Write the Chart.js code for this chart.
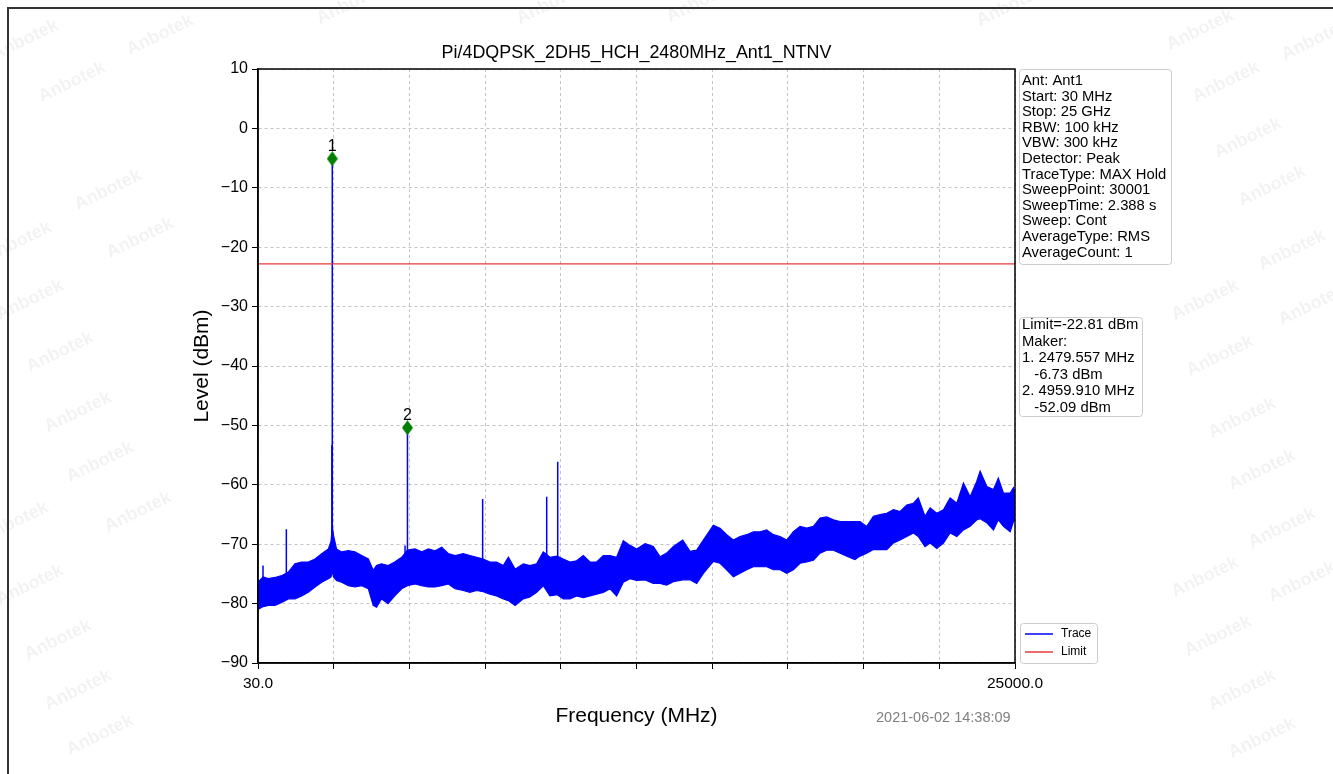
<!DOCTYPE html>
<html>
<head>
<meta charset="utf-8">
<script src="https://cdn.jsdelivr.net/npm/chart.js@4/dist/chart.umd.min.js"></script>
<style>
  html, body { margin: 0; padding: 0; background: #fff; }
  #wrap { width: 1333px; height: 774px; }
</style>
</head>
<body>
<div id="wrap"><canvas id="canvas" width="1333" height="774"></canvas></div>
<script>
var freqMHz = [30, 200, 370, 590, 810, 1030, 1250, 1470, 1690, 1910, 2130, 2350, 2440, 2480, 2520, 2620, 2790, 3010, 3230, 3450,
    3670, 3830, 3940, 4100, 4320, 4540, 4770, 4960, 5210, 5430, 5650, 5870, 6090, 6310, 6530, 6800, 7020, 7240, 7460, 7680,
    7900, 8120, 8290, 8510, 8780, 9000, 9220, 9440, 9660, 9900, 10100, 10320, 10540, 10760, 10980, 11200, 11420, 11640, 11860, 12080,
    12300, 12520, 12800, 13070, 13290, 13510, 13730, 14040, 14280, 14500, 14720, 15050, 15270, 15490, 15710, 15930, 16150, 16370, 16590, 16810,
    17030, 17250, 17470, 17690, 17910, 18130, 18350, 18570, 18790, 19010, 19230, 19450, 19720, 19890, 20110, 20330, 20550, 20770, 20990, 21210,
    21430, 21650, 21810, 22030, 22200, 22420, 22640, 22860, 23080, 23300, 23520, 23740, 23850, 24070, 24290, 24450, 24620, 24840, 24950, 25000]
var upperDbm = [-76.4, -75.5, -75.8, -75.6, -75.3, -74.7, -73.3, -73.0, -73.0, -72.5, -71.6, -70.8, -69.5, -66.9, -68.5, -70.8, -71.3, -71.1, -71.3, -71.9,
    -72.5, -74.4, -73.6, -73.3, -73.6, -73.0, -72.2, -71.0, -70.8, -71.3, -70.8, -71.1, -70.5, -71.6, -71.9, -71.6, -71.9, -72.2, -72.5, -73.0,
    -73.0, -73.6, -72.2, -74.2, -73.3, -73.6, -73.3, -71.3, -72.2, -72.0, -72.5, -73.0, -72.8, -71.9, -73.0, -73.0, -71.9, -71.9, -72.2, -69.4,
    -70.2, -70.8, -69.9, -70.4, -72.1, -71.5, -70.4, -69.3, -71.2, -71.0, -69.3, -66.8, -67.3, -68.4, -69.3, -68.7, -68.4, -67.9, -67.9, -67.6,
    -68.4, -68.7, -69.3, -67.9, -67.0, -67.3, -67.0, -65.6, -65.4, -65.9, -66.2, -66.2, -66.2, -66.2, -67.0, -65.3, -65.0, -64.8, -64.2, -64.5,
    -63.4, -63.1, -62.2, -65.3, -63.9, -64.8, -64.2, -62.2, -63.1, -59.7, -62.0, -59.4, -57.7, -60.3, -60.8, -58.9, -61.4, -61.4, -60.5, -61.3]
var lowerDbm = [-81.0, -80.5, -80.3, -80.3, -79.8, -79.2, -79.2, -78.7, -78.1, -77.2, -76.4, -75.8, -75.5, -74.5, -75.5, -76.1, -76.4, -77.0, -77.2, -77.0,
    -77.5, -80.3, -80.6, -79.2, -80.0, -78.7, -77.5, -77.0, -76.7, -77.0, -77.2, -77.2, -77.0, -76.7, -77.5, -77.8, -78.1, -77.8, -78.0, -78.4,
    -78.7, -79.2, -79.5, -80.3, -79.2, -78.9, -78.1, -77.0, -78.7, -78.5, -79.2, -79.2, -78.7, -79.0, -78.7, -78.4, -78.1, -77.5, -78.7, -76.4,
    -75.8, -76.1, -76.0, -76.6, -76.6, -76.9, -76.3, -76.0, -76.0, -76.6, -74.9, -72.9, -73.2, -74.3, -75.5, -74.9, -74.3, -73.8, -73.8, -73.8,
    -74.3, -74.3, -74.9, -74.3, -73.2, -73.0, -72.7, -71.5, -71.0, -71.0, -71.5, -72.0, -72.6, -72.0, -71.5, -70.9, -70.9, -70.9, -69.8, -69.3,
    -68.7, -68.1, -68.7, -70.4, -69.8, -70.7, -69.8, -68.1, -68.7, -67.6, -67.0, -65.9, -65.7, -66.4, -67.6, -65.9, -67.0, -67.9, -66.2, -65.8]

// narrow emissions standing out of the noise
var spikeFreqs = [195, 965, 2465, 2480, 4880, 4960, 7440, 9553, 9916]
var spikeTops = [-73.6, -67.5, -53.3, -5.1, -70.2, -50.4, -62.4, -62.0, -56.1]
var spikeBases = [-78.0, -78.5, -74.0, -74.0, -76.5, -76.5, -77.5, -77.5, -78.0]

var markerFreqs = [2479.557, 4959.910]
var markerLevels = [-5.1, -50.4]
var markerNames = ['1', '2']

var limitDbm = -22.81
var xStart = 30
var xStop = 25000
var xTicks = [30, 2527, 5024, 7521, 10018, 12515, 15012, 17509, 20006, 22503, 25000]
var xTickLabels = ['30.0', '', '', '', '', '', '', '', '', '', '25000.0']

var chartTitle = 'Pi/4DQPSK_2DH5_HCH_2480MHz_Ant1_NTNV'
var xTitle = 'Frequency (MHz)'
var yTitle = 'Level (dBm)'
var stamp = '2021-06-02 14:38:09'
var infoLines = ['Ant: Ant1', 'Start: 30 MHz', 'Stop: 25 GHz', 'RBW: 100 kHz', 'VBW: 300 kHz', 'Detector: Peak',
    'TraceType: MAX Hold', 'SweepPoint: 30001', 'SweepTime: 2.388 s', 'Sweep: Cont', 'AverageType: RMS', 'AverageCount: 1']
var markerLines = ['Limit=-22.81 dBm', 'Maker:', '1. 2479.557 MHz', '   -6.73 dBm', '2. 4959.910 MHz', '   -52.09 dBm']
var legendNames = ['Trace', 'Limit']

var FONT = '"Liberation Sans", Arial, sans-serif'
var BLUE = '#0000ff'
var RED = '#e8383a'

var upperPts = freqMHz.map(function(f, i) { return { x: f, y: upperDbm[i] } })
var lowerPts = freqMHz.map(function(f, i) { return { x: f, y: lowerDbm[i] } })
var spikePts = []
spikeFreqs.forEach(function(f, i) {
    spikePts.push({ x: f, y: spikeBases[i] }, { x: f, y: spikeTops[i] }, { x: f, y: null })
})
var markerPts = markerFreqs.map(function(f, i) { return { x: f, y: markerLevels[i] } })

// thin green diamond, like the analyser marker
function diamond(w, h, color) {
    var c = document.createElement('canvas')
    c.width = w; c.height = h
    var g = c.getContext('2d')
    g.fillStyle = color
    g.beginPath()
    g.moveTo(w / 2, 0); g.lineTo(w, h / 2); g.lineTo(w / 2, h); g.lineTo(0, h / 2)
    g.closePath(); g.fill()
    return c
}

function textBox(ctx, lines, x, y, w, h, baseline0, step) {
    ctx.save()
    ctx.fillStyle = 'rgba(255,255,255,0.9)'
    ctx.strokeStyle = '#cccccc'
    ctx.lineWidth = 1
    ctx.beginPath()
    ctx.roundRect(x + 0.5, y + 0.5, w, h, 3)
    ctx.fill(); ctx.stroke()
    ctx.fillStyle = '#000'
    ctx.font = '14.8px ' + FONT
    ctx.textAlign = 'left'
    ctx.textBaseline = 'alphabetic'
    lines.forEach(function(t, i) { ctx.fillText(t, x + 3, baseline0 + i * step) })
    ctx.restore()
}

var watermarks = [[25, 40], [72, 82], [160, 35], [108, 190], [140, 238], [18, 242], [30, 300], [60, 352], [78, 412], [100, 462],
    [138, 512], [15, 522], [30, 585], [58, 640], [78, 690], [100, 735], [1226, 82], [1248, 138], [1272, 186], [1292, 250],
    [1312, 305], [1205, 300], [1220, 356], [1242, 418], [1262, 470], [1282, 528], [1302, 582], [1205, 577], [1218, 636],
    [1242, 690], [1262, 738], [1315, 40], [350, 4], [550, 4], [700, 2], [1010, 6], [1200, 30]]

var decor = {
    id: 'decor',
    beforeDraw: function(chart) {
        var ctx = chart.ctx
        ctx.save()
        ctx.fillStyle = '#fff'
        ctx.fillRect(0, 0, chart.width, chart.height)
        ctx.font = 'bold 18px ' + FONT
        ctx.fillStyle = 'rgba(0,0,0,0.05)'
        ctx.textAlign = 'center'
        ctx.textBaseline = 'middle'
        watermarks.forEach(function(p) {
            ctx.save(); ctx.translate(p[0], p[1]); ctx.rotate(-0.45); ctx.fillText('Anbotek', 0, 0); ctx.restore()
        })
        ctx.strokeStyle = '#333'
        ctx.lineWidth = 2
        ctx.beginPath()
        ctx.moveTo(8, 780); ctx.lineTo(8, 8); ctx.lineTo(1340, 8)
        ctx.stroke()
        ctx.restore()
    },
    afterDraw: function(chart) {
        var ctx = chart.ctx
        var a = chart.chartArea
        var xs = chart.scales.x, ys = chart.scales.y
        ctx.save()
        ctx.strokeStyle = '#000'
        ctx.lineWidth = 1.5
        ctx.strokeRect(a.left, a.top, a.right - a.left, a.bottom - a.top)

        ctx.fillStyle = '#000'
        ctx.textAlign = 'center'
        ctx.font = '17.9px ' + FONT
        ctx.textBaseline = 'alphabetic'
        ctx.fillText(chartTitle, (a.left + a.right) / 2, 58)
        ctx.font = '21px ' + FONT
        ctx.fillText(xTitle, (a.left + a.right) / 2, 722)
        ctx.save()
        ctx.translate(202, (a.top + a.bottom) / 2)
        ctx.rotate(-Math.PI / 2)
        ctx.textBaseline = 'middle'
        ctx.fillText(yTitle, 0, 0)
        ctx.restore()

        // marker numbers
        ctx.font = '16px ' + FONT
        ctx.textBaseline = 'alphabetic'
        markerFreqs.forEach(function(f, i) {
            ctx.fillText(markerNames[i], xs.getPixelForValue(f), ys.getPixelForValue(markerLevels[i]) - 8)
        })

        ctx.font = '14.5px ' + FONT
        ctx.fillStyle = '#808080'
        ctx.textAlign = 'left'
        ctx.fillText(stamp, 876, 722)

        textBox(ctx, infoLines, 1019, 69, 152, 195, 85, 15.6)
        textBox(ctx, markerLines, 1019, 317, 123, 99, 329, 16.5)

        // legend
        ctx.fillStyle = 'rgba(255,255,255,0.9)'
        ctx.strokeStyle = '#cccccc'
        ctx.lineWidth = 1
        ctx.beginPath()
        ctx.roundRect(1020.5, 623.5, 77, 40, 3)
        ctx.fill(); ctx.stroke()
        var cols = [BLUE, RED]
        var rows = [634, 652]
        ctx.font = '12px ' + FONT
        ctx.textBaseline = 'middle'
        legendNames.forEach(function(n, i) {
            ctx.strokeStyle = cols[i]
            ctx.lineWidth = 1.5
            ctx.beginPath(); ctx.moveTo(1025, rows[i]); ctx.lineTo(1053, rows[i]); ctx.stroke()
            ctx.fillStyle = '#000'
            ctx.fillText(n, 1061, rows[i])
        })
        ctx.restore()
    }
}

var ctx = document.getElementById('canvas').getContext('2d')
var chart = new Chart(ctx, {
    type: 'line',
    data: {
        datasets: [{
            label: 'Marker',
            data: markerPts,
            showLine: false,
            pointStyle: diamond(11, 15, '#008000'),
            pointRadius: 7,
            order: 0
        }, {
            label: 'Limit',
            data: [{ x: xStart, y: limitDbm }, { x: xStop, y: limitDbm }],
            borderColor: RED,
            borderWidth: 1.2,
            pointRadius: 0,
            order: 1
        }, {
            label: 'Spikes',
            data: spikePts,
            borderColor: BLUE,
            borderWidth: 1.5,
            pointRadius: 0,
            spanGaps: false,
            order: 2
        }, {
            label: 'Trace',
            data: upperPts,
            borderColor: BLUE,
            backgroundColor: BLUE,
            borderWidth: 1.2,
            pointRadius: 0,
            fill: '+1',
            order: 3
        }, {
            label: 'Trace low',
            data: lowerPts,
            borderColor: BLUE,
            borderWidth: 1.2,
            pointRadius: 0,
            fill: false,
            order: 4
        }]
    },
    plugins: [decor],
    options: {
        responsive: false,
        animation: false,
        devicePixelRatio: 1,
        layout: { padding: { left: 0, top: 69, right: 318, bottom: 0 } },
        plugins: { legend: { display: false }, tooltip: { enabled: false }, title: { display: false } },
        scales: {
            x: {
                type: 'linear',
                min: xStart,
                max: xStop,
                afterBuildTicks: function(s) { s.ticks = xTicks.map(function(v) { return { value: v } }) },
                afterFit: function(s) { s.height = 111 },
                ticks: {
                    autoSkip: false,
                    maxRotation: 0,
                    padding: 5,
                    color: '#000',
                    font: { family: FONT, size: 15.5 },
                    callback: function(v, i) { return xTickLabels[i] }
                },
                grid: { color: '#b4b4b4', lineWidth: 0.8, tickLength: 6, tickColor: '#000', tickWidth: 1, tickBorderDash: [] },
                border: { display: true, color: '#000', width: 1.5, dash: [3, 3] }
            },
            y: {
                min: -90,
                max: 10,
                afterFit: function(s) { s.width = 258 },
                ticks: {
                    stepSize: 10,
                    padding: 4,
                    color: '#000',
                    font: { family: FONT, size: 16 },
                    callback: function(v) { return String(v).replace('-', '\u2212') }
                },
                grid: { color: '#b4b4b4', lineWidth: 0.8, tickLength: 6, tickColor: '#000', tickWidth: 1, tickBorderDash: [] },
                border: { display: true, color: '#000', width: 1.5, dash: [3, 3] }
            }
        }
    }
})
</script>
</body>
</html>
